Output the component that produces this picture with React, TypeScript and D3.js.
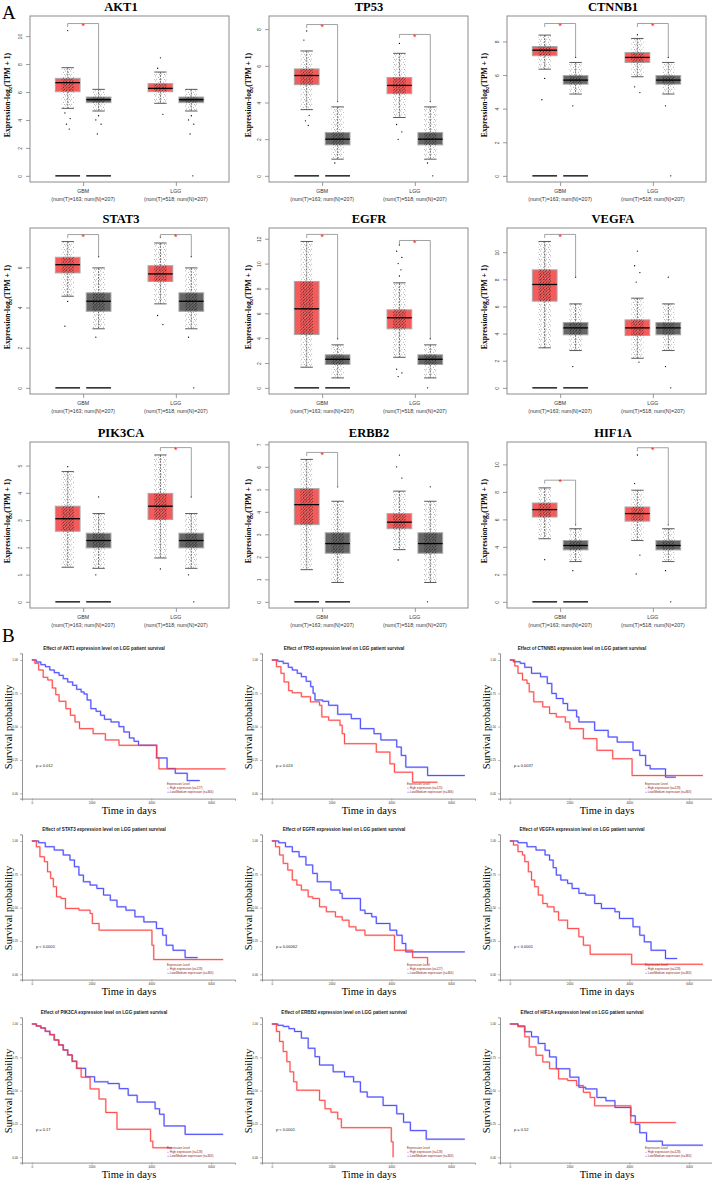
import React, { useEffect, useRef } from "react";
import * as d3 from "d3";

const W = 712;
const H = 1182;
const serif = "'Liberation Serif', 'Times New Roman', serif";
const sans = "'Liberation Sans', Arial, sans-serif";

// ---- panel A : expression boxplots ----
const genes = ["AKT1", "TP53", "CTNNB1", "STAT3", "EGFR", "VEGFA", "PIK3CA", "ERBB2", "HIF1A"];
const yMax = [11.0, 8.38, 9.15, 7.65, 12.37, 11.33, 5.64, 6.83, 11.18];
const yTickStep = [2, 2, 2, 2, 2, 2, 1, 1, 2];
const groupLabels = ["GBM", "LGG"];
const groupNums = ["(num(T)=163; num(N)=207)", "(num(T)=518; num(N)=207)"];

// [whisker low, q1, median, q3, whisker high]
const gbmTumor = [
  [4.83, 6.02, 6.67, 6.98, 7.74],
  [3.61, 4.97, 5.47, 5.83, 6.81],
  [6.35, 7.15, 7.48, 7.7, 8.38],
  [4.56, 5.72, 6.13, 6.5, 7.28],
  [1.66, 4.29, 6.36, 8.56, 11.78],
  [2.95, 6.39, 7.62, 8.7, 10.79],
  [1.27, 2.59, 3.05, 3.51, 4.78],
  [1.43, 3.43, 4.32, 5.03, 6.33],
  [4.59, 6.17, 6.71, 7.19, 8.29],
];
const lggTumor = [
  [5.19, 6.02, 6.26, 6.6, 7.43],
  [3.18, 4.48, 4.93, 5.36, 6.68],
  [5.9, 6.75, 7.05, 7.34, 8.18],
  [4.18, 5.29, 5.67, 6.08, 7.21],
  [2.46, 4.75, 5.64, 6.28, 8.45],
  [2.18, 3.86, 4.42, 5.01, 6.61],
  [1.61, 3.02, 3.51, 3.98, 5.39],
  [2.32, 3.25, 3.54, 3.92, 4.92],
  [4.46, 5.87, 6.42, 6.9, 8.12],
];
const normal = [
  [4.64, 5.24, 5.45, 5.64, 6.19],
  [0.91, 1.69, 2.0, 2.36, 3.76],
  [4.87, 5.46, 5.7, 5.97, 6.75],
  [2.94, 3.81, 4.31, 4.73, 5.97],
  [0.8, 1.88, 2.3, 2.66, 3.46],
  [2.75, 3.91, 4.42, 4.82, 6.19],
  [1.23, 1.98, 2.25, 2.52, 3.24],
  [0.86, 2.16, 2.59, 3.07, 4.47],
  [2.93, 3.78, 4.1, 4.46, 5.32],
];
const gbmTumorOut = [
  [10.4, 4.5, 4.1, 3.7, 3.35],
  [7.9, 7.4, 3.3, 3.0, 2.75],
  [5.8, 4.53],
  [4.3, 3.07],
  [],
  [],
  [4.96],
  [],
  [3.07],
];
const lggTumorOut = [
  [8.45, 7.7, 4.4],
  [7.22, 2.8, 2.4, 1.99],
  [8.4, 5.3, 4.96],
  [7.5, 3.6, 3.15],
  [11.5, 11.0, 10.5, 10.0, 9.5, 9.0, 1.5, 1.2, 0.91],
  [10.08, 9.0, 8.5, 7.8, 1.9],
  [1.21],
  [6.52, 6.0, 5.5, 1.86],
  [10.68, 8.6, 3.4, 2.03],
];
const normalOut = [
  [4.3, 4.0, 3.7, 3.0],
  [4.05, 0.7],
  [7.05, 4.17],
  [6.53, 2.52],
  [3.95],
  [8.16, 1.57],
  [3.85, 0.99],
  [5.11],
  [5.6, 2.27],
];
const lggNormalZero = [0];
const gbmZero = 0;
// height of the significance bracket, null = not significant
const gbmSig = [10.9, 8.25, 9.07, 7.63, 12.35, 11.31, null, 6.64, 8.85];
const lggSig = [null, 7.71, 9.07, 7.63, 11.86, null, 5.66, null, 11.21];

// ---- panel B : survival curves, [days, survival] ----
const survHigh = [
  [[0, 1], [100, 0.975], [228, 0.925], [380, 0.87], [532, 0.85], [684, 0.79], [800, 0.74], [911, 0.69], [1139, 0.635], [1291, 0.585], [1443, 0.535], [1595, 0.485], [2051, 0.447], [2461, 0.4], [2916, 0.36], [4177, 0.266], [4253, 0.183], [6486, 0.183]],
  [[0, 1], [152, 0.95], [304, 0.9], [410, 0.835], [562, 0.77], [684, 0.754], [988, 0.724], [1292, 0.686], [1596, 0.66], [1672, 0.573], [1900, 0.548], [2280, 0.51], [2356, 0.447], [2432, 0.372], [3496, 0.309], [3952, 0.221], [4104, 0.158], [4712, 0.083], [5548, 0.083]],
  [[0, 1], [166, 0.955], [272, 0.9], [423, 0.85], [574, 0.824], [649, 0.761], [800, 0.686], [1102, 0.648], [1329, 0.598], [1555, 0.573], [1857, 0.535], [2008, 0.485], [2461, 0.41], [2914, 0.322], [3443, 0.259], [4092, 0.133], [6463, 0.133]],
  [[0, 1], [150, 0.957], [270, 0.882], [420, 0.845], [525, 0.769], [630, 0.719], [720, 0.657], [825, 0.581], [975, 0.569], [1125, 0.494], [1575, 0.481], [1950, 0.456], [2025, 0.381], [2250, 0.331], [4020, 0.218], [4080, 0.11], [6405, 0.11]],
  [[0, 1], [122, 0.957], [258, 0.895], [380, 0.832], [532, 0.782], [684, 0.707], [836, 0.669], [988, 0.632], [1216, 0.581], [1368, 0.569], [1596, 0.506], [1824, 0.469], [2128, 0.431], [2356, 0.406], [2584, 0.356], [2812, 0.331], [3116, 0.293], [4104, 0.18], [4712, 0.125], [5214, 0.075]],
  [[0, 1], [121, 0.97], [272, 0.92], [423, 0.895], [498, 0.845], [619, 0.769], [725, 0.707], [830, 0.657], [951, 0.594], [1102, 0.531], [1253, 0.506], [1480, 0.469], [1631, 0.406], [1933, 0.343], [2310, 0.281], [2461, 0.218], [2688, 0.15], [4077, 0.075], [6463, 0.075]],
  [[0, 1], [150, 0.985], [300, 0.97], [450, 0.945], [600, 0.92], [750, 0.88], [900, 0.843], [1050, 0.805], [1200, 0.768], [1350, 0.72], [1500, 0.667], [1650, 0.601], [1950, 0.513], [2250, 0.437], [2475, 0.336], [2850, 0.21], [3975, 0.121], [4050, 0.071], [4680, 0.071]],
  [[0, 1], [152, 0.944], [258, 0.869], [380, 0.793], [502, 0.717], [608, 0.641], [730, 0.566], [836, 0.503], [1596, 0.427], [1778, 0.364], [1976, 0.338], [2204, 0.288], [2326, 0.222], [3998, 0.116], [4058, 0]],
  [[0, 1], [272, 0.98], [498, 0.904], [649, 0.828], [876, 0.765], [1102, 0.715], [1329, 0.664], [1631, 0.588], [1933, 0.576], [2235, 0.538], [2461, 0.487], [2688, 0.449], [2839, 0.386], [4047, 0.26], [5557, 0.26]],
];
const survLow = [
  [[0, 1], [150, 0.985], [300, 0.965], [456, 0.95], [600, 0.925], [750, 0.905], [911, 0.885], [1050, 0.86], [1200, 0.835], [1367, 0.81], [1500, 0.78], [1650, 0.76], [1747, 0.745], [1850, 0.7], [1975, 0.635], [2150, 0.615], [2300, 0.585], [2430, 0.555], [2650, 0.535], [2916, 0.5], [3080, 0.46], [3266, 0.415], [3420, 0.39], [3570, 0.36], [4177, 0.265], [4527, 0.186], [4800, 0.15], [5200, 0.095], [5620, 0.095]],
  [[0, 1], [200, 0.99], [380, 0.975], [550, 0.945], [684, 0.925], [850, 0.9], [988, 0.875], [1150, 0.84], [1300, 0.8], [1380, 0.75], [1444, 0.7], [1700, 0.69], [1900, 0.66], [2204, 0.593], [2660, 0.56], [2964, 0.485], [3420, 0.447], [3648, 0.4], [4180, 0.347], [4332, 0.284], [4484, 0.196], [5214, 0.133], [6460, 0.133]],
  [[0, 1], [121, 0.987], [347, 0.975], [498, 0.945], [725, 0.9], [1027, 0.874], [1253, 0.824], [1404, 0.749], [1555, 0.711], [1782, 0.673], [1933, 0.623], [2235, 0.573], [2310, 0.535], [2839, 0.472], [3292, 0.422], [3594, 0.384], [4122, 0.322], [4349, 0.284], [4545, 0.209], [4696, 0.183], [5210, 0.121], [5557, 0.121]],
  [[0, 1], [225, 0.987], [450, 0.957], [750, 0.932], [1050, 0.895], [1275, 0.857], [1425, 0.807], [1575, 0.744], [1725, 0.694], [1950, 0.669], [2175, 0.644], [2400, 0.594], [2625, 0.556], [2850, 0.506], [3150, 0.481], [3450, 0.431], [3750, 0.393], [4170, 0.343], [4380, 0.293], [4500, 0.218], [4725, 0.18], [5130, 0.125], [5550, 0.125]],
  [[0, 1], [228, 0.987], [456, 0.957], [684, 0.92], [912, 0.882], [1140, 0.82], [1368, 0.757], [1520, 0.694], [1976, 0.632], [2280, 0.607], [2356, 0.569], [2964, 0.481], [3116, 0.456], [3344, 0.431], [3496, 0.381], [3952, 0.331], [4180, 0.293], [4362, 0.231], [4484, 0.168], [6460, 0.168]],
  [[0, 1], [272, 0.987], [574, 0.957], [876, 0.932], [1178, 0.895], [1329, 0.857], [1450, 0.8], [1555, 0.744], [1706, 0.707], [1933, 0.682], [2084, 0.644], [2310, 0.607], [2537, 0.594], [2839, 0.531], [3065, 0.494], [3518, 0.469], [3669, 0.419], [4122, 0.356], [4349, 0.293], [4500, 0.243], [4726, 0.18], [5210, 0.118], [5602, 0.118]],
  [[0, 1], [150, 0.985], [300, 0.97], [450, 0.945], [600, 0.92], [750, 0.88], [900, 0.843], [1050, 0.805], [1200, 0.768], [1350, 0.72], [1500, 0.667], [1800, 0.604], [2100, 0.566], [2550, 0.553], [2925, 0.515], [3225, 0.465], [3525, 0.414], [4125, 0.364], [4275, 0.323], [4425, 0.235], [5130, 0.172], [6405, 0.172]],
  [[0, 1], [200, 0.99], [380, 0.982], [570, 0.965], [760, 0.944], [988, 0.894], [1216, 0.818], [1444, 0.755], [1596, 0.692], [2052, 0.641], [2432, 0.604], [2736, 0.566], [2964, 0.49], [3192, 0.452], [3724, 0.389], [4180, 0.326], [4408, 0.263], [4636, 0.2], [5168, 0.136], [6460, 0.136]],
  [[0, 1], [272, 0.985], [498, 0.942], [725, 0.904], [951, 0.854], [1178, 0.803], [1329, 0.753], [1555, 0.664], [2008, 0.601], [2310, 0.525], [2537, 0.513], [2914, 0.449], [3216, 0.424], [3518, 0.374], [4047, 0.311], [4198, 0.247], [4349, 0.184], [4575, 0.121], [5104, 0.091], [6463, 0.091]],
];
const pValues = ["p = 0.012", "p = 0.024", "p = 0.0037", "p < 0.0001", "p = 0.00062", "p < 0.0001", "p = 0.17", "p < 0.0001", "p = 0.52"];
const nHigh = [127, 125, 128, 128, 127, 128, 128, 128, 128];
const nLow = [364, 366, 363, 363, 364, 363, 363, 363, 363];
const survTicksY = [0, 0.25, 0.5, 0.75, 1];
const survTicksX = [0, 2000, 4000, 6000];

const RED_BOX = "#f65b5b";
const GREY_BOX = "#666666";
const HIGH_COL = "#ff3c3c";
const LOW_COL = "#3c3cff";

function drawBox(g, x, y, pos, stats, outs, fill) {
  const [lo, q1, med, q3, hi] = stats;
  const cx = x(pos);
  const hw = x(pos + 0.4) - cx;
  const jw = x(pos + 0.2) - cx;
  const cw = x(pos + 0.2) - cx;

  g.append("line").attr("x1", cx).attr("x2", cx).attr("y1", y(hi)).attr("y2", y(q3))
    .attr("stroke", "#222").attr("stroke-width", 0.6).attr("stroke-dasharray", "2,1");
  g.append("line").attr("x1", cx).attr("x2", cx).attr("y1", y(q1)).attr("y2", y(lo))
    .attr("stroke", "#222").attr("stroke-width", 0.6).attr("stroke-dasharray", "2,1");

  g.append("rect").attr("x", cx - hw).attr("y", y(q3)).attr("width", 2 * hw).attr("height", y(q1) - y(q3))
    .attr("fill", fill).attr("stroke", "#a8a8a8").attr("stroke-width", 1);

  // jittered points cloud
  g.append("rect").attr("x", cx - jw).attr("y", y(hi)).attr("width", 2 * jw).attr("height", y(lo) - y(hi))
    .attr("fill", "url(#jitSparse)");
  g.append("rect").attr("x", cx - jw).attr("y", y(q3)).attr("width", 2 * jw).attr("height", y(q1) - y(q3))
    .attr("fill", "url(#jitDense)");

  g.append("line").attr("x1", cx - hw).attr("x2", cx + hw).attr("y1", y(med)).attr("y2", y(med))
    .attr("stroke", "#000").attr("stroke-width", 1.3);

  [lo, hi].forEach((v) => {
    g.append("line").attr("x1", cx - cw).attr("x2", cx + cw).attr("y1", y(v)).attr("y2", y(v))
      .attr("stroke", "#333").attr("stroke-width", 0.8);
  });

  const jit = [0, -0.09, 0.08, -0.04, 0.05];
  g.selectAll(null).data(outs).enter().append("circle")
    .attr("cx", (d, k) => x(pos + jit[k % jit.length]))
    .attr("cy", (d) => y(d))
    .attr("r", 0.65)
    .attr("fill", "#000");
}

function drawFigure(node) {
  const svg = d3.select(node);
  svg.selectAll("*").remove();
  svg.append("rect").attr("width", W).attr("height", H).attr("fill", "#fff");

  const defs = svg.append("defs");
  const sparse = defs.append("pattern").attr("id", "jitSparse").attr("width", 5).attr("height", 5)
    .attr("patternUnits", "userSpaceOnUse");
  [[0.7, 0.9], [3.3, 2.2], [1.8, 4.1], [4.4, 4.6]].forEach(([a, b]) =>
    sparse.append("circle").attr("cx", a).attr("cy", b).attr("r", 0.38).attr("fill", "#111"));
  const dense = defs.append("pattern").attr("id", "jitDense").attr("width", 3).attr("height", 3)
    .attr("patternUnits", "userSpaceOnUse");
  [[0.5, 0.5], [2.1, 1.3], [1.1, 2.4]].forEach(([a, b]) =>
    dense.append("circle").attr("cx", a).attr("cy", b).attr("r", 0.42).attr("fill", "#111"));

  svg.append("text").attr("x", 2).attr("y", 19).attr("font-family", serif).attr("font-size", 19).text("A");
  svg.append("text").attr("x", 2).attr("y", 642).attr("font-family", serif).attr("font-size", 19).text("B");

  // ---------- A ----------
  const colLeft = [30, 269, 507];
  const frameW = 199;
  const rowTop = [16, 228, 442];
  const frameH = 166;
  const titleX = [121, 369, 613];
  const labelX = [7, 248, 484];

  genes.forEach((gene, i) => {
    const c = i % 3;
    const r = Math.floor(i / 3);
    const x0 = colLeft[c];
    const y0 = rowTop[r];
    const x = d3.scaleLinear().domain([-0.22, 6.22]).range([x0, x0 + frameW]);
    const y = d3.scaleLinear().domain([-0.04 * yMax[i], 1.04 * yMax[i]]).range([y0 + frameH, y0]);
    const g = svg.append("g");

    g.append("text").attr("x", titleX[c]).attr("y", y0 - 5).attr("text-anchor", "middle")
      .attr("font-family", serif).attr("font-weight", "bold").attr("font-size", 12.5).text(gene);

    const lab = g.append("text")
      .attr("transform", `translate(${labelX[c] + 3},${y0 + frameH / 2 - 4}) rotate(-90)`)
      .attr("text-anchor", "middle").attr("font-family", serif).attr("font-weight", "bold").attr("font-size", 7.6);
    lab.append("tspan").text("Expression-log");
    lab.append("tspan").attr("font-size", 5).attr("dy", 2).text("2");
    lab.append("tspan").attr("dy", -2).text("(TPM + 1)");

    const ticks = d3.range(0, 1.04 * yMax[i] + 1e-9, yTickStep[i]);
    const ya = g.append("g").attr("transform", `translate(${x0},0)`)
      .call(d3.axisLeft(y).tickValues(ticks).tickSize(4).tickFormat(d3.format("d")));
    ya.select(".domain").remove();
    ya.selectAll(".tick line").attr("stroke", "#555").attr("stroke-width", 0.6);
    ya.selectAll(".tick text").attr("x", 0).attr("dy", 0).attr("transform", "translate(-8,0) rotate(-90)")
      .attr("text-anchor", "middle").attr("font-family", sans).attr("font-size", 5).attr("fill", "#444");

    const xa = g.append("g").attr("transform", `translate(0,${y0 + frameH})`)
      .call(d3.axisBottom(x).tickValues([1.5, 4.5]).tickSize(4).tickFormat(() => ""));
    xa.select(".domain").remove();
    xa.selectAll(".tick line").attr("stroke", "#555").attr("stroke-width", 0.6);
    [1.5, 4.5].forEach((p, k) => {
      g.append("text").attr("x", x(p)).attr("y", y0 + frameH + 11).attr("text-anchor", "middle")
        .attr("font-family", sans).attr("font-size", 5.2).attr("fill", "#333").text(groupLabels[k]);
      g.append("text").attr("x", x(p)).attr("y", y0 + frameH + 18.5).attr("text-anchor", "middle")
        .attr("font-family", sans).attr("font-size", 5.2).attr("fill", "#333").text(groupNums[k]);
    });

    // GBM zero lines
    [1, 2].forEach((p) => {
      g.append("line").attr("x1", x(p - 0.4)).attr("x2", x(p + 0.4)).attr("y1", y(gbmZero)).attr("y2", y(gbmZero))
        .attr("stroke", "#111").attr("stroke-width", 1.4);
    });

    drawBox(g, x, y, 1, gbmTumor[i], gbmTumorOut[i], RED_BOX);
    drawBox(g, x, y, 2, normal[i], normalOut[i], GREY_BOX);
    drawBox(g, x, y, 4, lggTumor[i], lggTumorOut[i], RED_BOX);
    drawBox(g, x, y, 5, normal[i], normalOut[i].concat(lggNormalZero), GREY_BOX);

    const sigs = [gbmSig[i], lggSig[i]];
    sigs.forEach((lvl, k) => {
      if (lvl === null) return;
      const pL = k === 0 ? 1 : 4;
      const pR = pL + 1;
      const nMax = Math.max(normal[i][4], ...normalOut[i]);
      const by = y(lvl);
      g.append("path")
        .attr("d", `M${x(pL)},${by + 3.5}V${by}H${x(pR)}V${y(nMax)}`)
        .attr("fill", "none").attr("stroke", "#8a8a8a").attr("stroke-width", 0.8);
      g.append("text").attr("x", x((pL + pR) / 2)).attr("y", by + 5.2).attr("text-anchor", "middle")
        .attr("font-family", sans).attr("font-size", 9).attr("fill", "#ff2020").text("*");
    });

    g.append("rect").attr("x", x0).attr("y", y0).attr("width", frameW).attr("height", frameH)
      .attr("fill", "none").attr("stroke", "#8c8c8c").attr("stroke-width", 1);
  });

  // ---------- B ----------
  const colOff = [0, 240, 478];
  const rowS1 = [660, 841, 1024];
  genes.forEach((gene, i) => {
    const c = i % 3;
    const r = Math.floor(i / 3);
    const ox = colOff[c];
    const y1 = rowS1[r];
    const x = d3.scaleLinear().domain([-330, 6800]).range([22 + ox, 235 + ox]);
    const y = d3.scaleLinear().domain([-0.04, 1.05]).range([y1 + 138.6, y1 - 6.67]);
    const g = svg.append("g");

    g.append("text").attr("x", ox + 104).attr("y", y1 - 10).attr("text-anchor", "middle")
      .attr("font-family", sans).attr("font-weight", "bold").attr("font-size", 4.6).attr("fill", "#222")
      .text(`Effect of ${gene} expression level on LGG patient survival`);

    const ya = g.append("g").attr("transform", `translate(${22 + ox},0)`)
      .call(d3.axisLeft(y).tickValues(survTicksY).tickSize(2).tickPadding(2).tickFormat(d3.format(".2f")));
    ya.select(".domain").attr("stroke", "#777").attr("stroke-width", 0.8);
    ya.selectAll(".tick line").attr("stroke", "#777").attr("stroke-width", 0.5);
    ya.selectAll(".tick text").attr("font-family", sans).attr("font-size", 3).attr("fill", "#333");

    const xa = g.append("g").attr("transform", `translate(0,${y1 + 138.6})`)
      .call(d3.axisBottom(x).tickValues(survTicksX).tickSize(2).tickPadding(1).tickFormat(d3.format("d")));
    xa.select(".domain").attr("stroke", "#777").attr("stroke-width", 0.8);
    xa.selectAll(".tick line").attr("stroke", "#777").attr("stroke-width", 0.5);
    xa.selectAll(".tick text").attr("font-family", sans).attr("font-size", 3).attr("fill", "#333");

    g.append("text").attr("x", ox + 129).attr("y", y1 + 153.5).attr("text-anchor", "middle")
      .attr("font-family", serif).attr("font-size", 10.5).text("Time in days");
    g.append("text").attr("transform", `translate(${ox + 11.5},${y1 + 67}) rotate(-90)`)
      .attr("text-anchor", "middle").attr("font-family", serif).attr("font-size", 10.5)
      .text("Survival probability");

    const line = d3.line().curve(d3.curveStepAfter).x((d) => x(d[0])).y((d) => y(d[1]));
    [[survLow[i], LOW_COL], [survHigh[i], HIGH_COL]].forEach(([data, col]) => {
      g.append("path").attr("d", line(data)).attr("fill", "none").attr("stroke", col)
        .attr("stroke-width", 2).attr("stroke-opacity", 0.25);
      g.append("path").attr("d", line(data)).attr("fill", "none").attr("stroke", col)
        .attr("stroke-width", 0.9);
    });

    g.append("text").attr("x", ox + 36).attr("y", y1 + 107).attr("font-family", sans).attr("font-size", 4)
      .attr("fill", "#222").text(pValues[i]);

    const lx = ox + 167;
    g.append("text").attr("x", lx).attr("y", y1 + 124.5).attr("font-family", sans).attr("font-size", 3)
      .attr("fill", "#8b2323").text("Expression Level");
    [[`High expression (n=${nHigh[i]})`, HIGH_COL], [`Low/Medium expression (n=${nLow[i]})`, LOW_COL]].forEach(([t, col], k) => {
      const ly = y1 + 128.7 + k * 4;
      g.append("text").attr("x", lx).attr("y", ly).attr("font-family", sans).attr("font-size", 3.4)
        .attr("fill", col).text("+");
      g.append("text").attr("x", lx + 2.8).attr("y", ly).attr("font-family", sans).attr("font-size", 3)
        .attr("fill", "#8b2323").text(t);
    });
  });
}

export default function App() {
  const ref = useRef(null);
  useEffect(() => {
    if (ref.current) drawFigure(ref.current);
  }, []);
  return <svg ref={ref} width={W} height={H} style={{ position: "absolute", left: 0, top: 0 }} />;
}
